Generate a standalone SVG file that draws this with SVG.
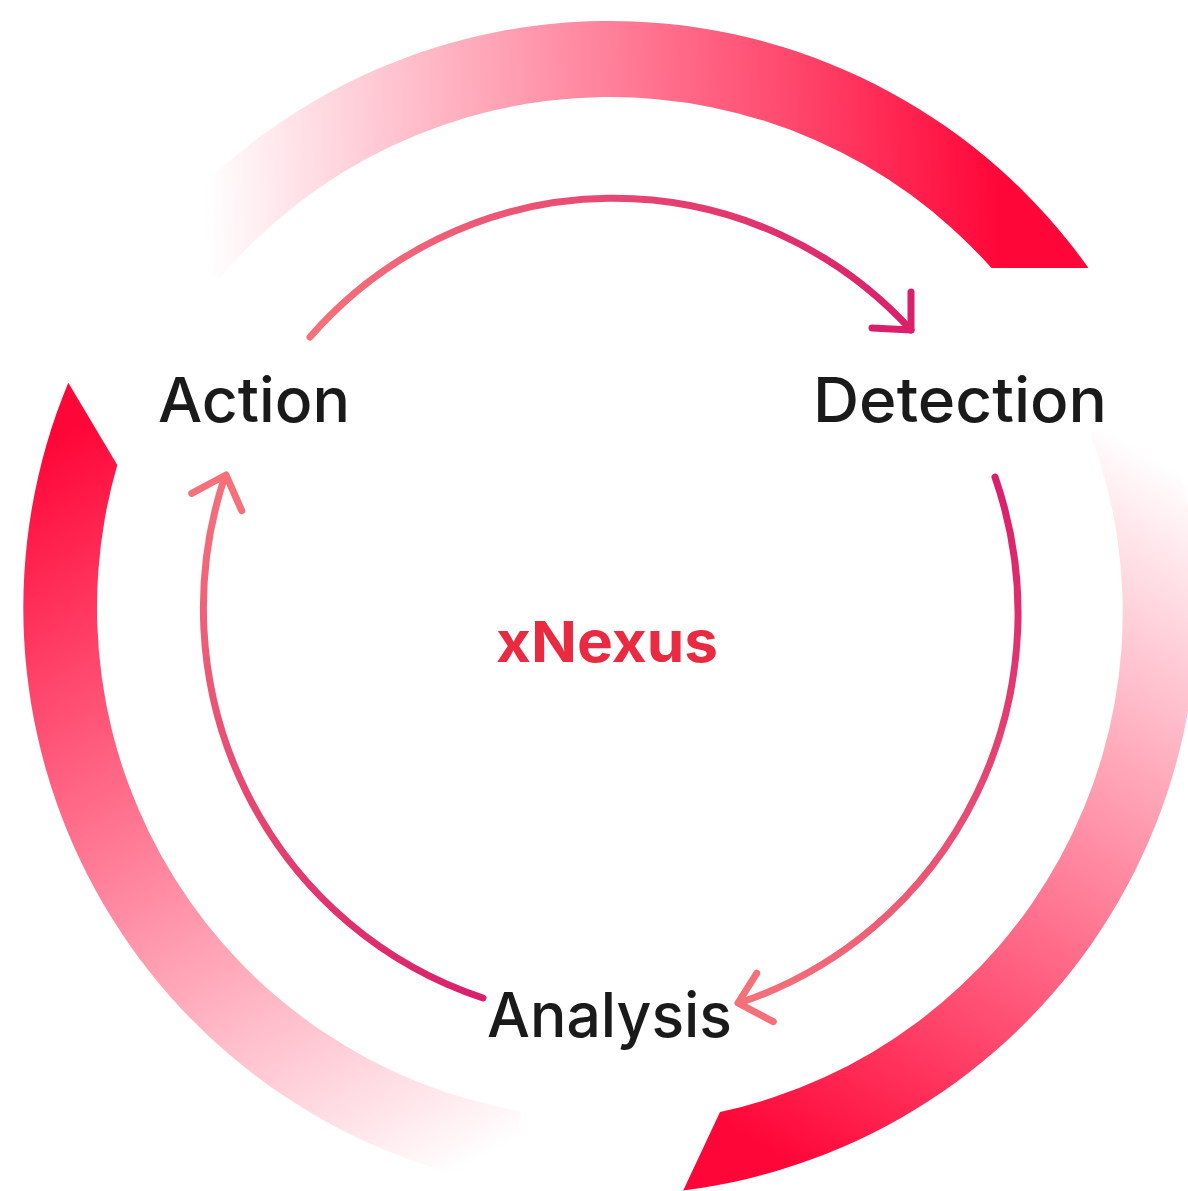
<svg xmlns="http://www.w3.org/2000/svg" width="1188" height="1191" viewBox="0 0 1188 1191">
  <defs>
    <linearGradient id="gTop" gradientUnits="userSpaceOnUse" x1="205" y1="250" x2="1000" y2="230">
      <stop offset="0" stop-color="#ff0a3c" stop-opacity="0"/>
      <stop offset="1" stop-color="#ff0638"/>
    </linearGradient>
    <linearGradient id="gLeft" gradientUnits="userSpaceOnUse" x1="500" y1="1150" x2="90" y2="420">
      <stop offset="0" stop-color="#ff0a3c" stop-opacity="0"/>
      <stop offset="1" stop-color="#ff0638"/>
    </linearGradient>
    <linearGradient id="gRight" gradientUnits="userSpaceOnUse" x1="1130" y1="440" x2="720" y2="1120">
      <stop offset="0" stop-color="#ff0a3c" stop-opacity="0"/>
      <stop offset="1" stop-color="#ff0638"/>
    </linearGradient>
    <linearGradient id="aTop" gradientUnits="userSpaceOnUse" x1="310" y1="337" x2="912" y2="330">
      <stop offset="0" stop-color="#f4717a"/>
      <stop offset="1" stop-color="#da1f6b"/>
    </linearGradient>
    <linearGradient id="aRight" gradientUnits="userSpaceOnUse" x1="1000" y1="480" x2="740" y2="1000">
      <stop offset="0" stop-color="#da1f6b"/>
      <stop offset="1" stop-color="#f4717a"/>
    </linearGradient>
    <linearGradient id="aLeft" gradientUnits="userSpaceOnUse" x1="483" y1="998" x2="226" y2="475">
      <stop offset="0" stop-color="#da1f6b"/>
      <stop offset="1" stop-color="#f4717a"/>
    </linearGradient>
    <style>
      .arc { fill: none; stroke-width: 7; stroke-linecap: round; stroke-linejoin: round; }
      .label { font-family: Inter, "Liberation Sans", sans-serif; font-size: 62px; font-weight: 500; fill: #1a1a1a; text-anchor: middle; }
      .center { font-family: Inter, "Liberation Sans", sans-serif; font-size: 57px; font-weight: 700; fill: #e92a41; text-anchor: middle; }
    </style>
  </defs>
  <rect width="1188" height="1191" fill="#ffffff"/>

  <g id="ring">
    <path id="seg-top" fill="url(#gTop)" d="M 991.5 268 L 1088.5 268 A 587 587 0 0 0 160.3 230.7 L 218.6 279.5 A 511 511 0 0 1 991.5 268 Z"/>
    <path id="seg-left" fill="url(#gLeft)" d="M 117.3 465 L 68.3 382.7 A 587 587 0 0 0 508.1 1186.1 L 521.3 1111.2 A 511 511 0 0 1 117.3 465 Z"/>
    <path id="seg-right" fill="url(#gRight)" d="M 720 1112 L 683.2 1190.5 A 587 587 0 0 0 1161.6 407.2 L 1090.2 433.2 A 511 511 0 0 1 720 1112 Z"/>
  </g>

  <g id="connectors">
    <g id="action-to-detection">
      <path class="arc" stroke="url(#aTop)" d="M 310 337 A 405 410 0 0 1 911 330"/>
      <path class="arc" stroke="#da1f6b" d="M 911 292 L 911 330 L 872 328"/>
    </g>
    <g id="detection-to-analysis">
      <path class="arc" stroke="url(#aRight)" d="M 995 477 A 405 410 0 0 1 739 1003"/>
      <path class="arc" stroke="#f4717a" d="M 756.7 973.3 L 738 1003 L 773.3 1021.7"/>
    </g>
    <g id="analysis-to-action">
      <path class="arc" stroke="url(#aLeft)" d="M 483 998 A 405 410 0 0 1 225 476"/>
      <path class="arc" stroke="#f4717a" d="M 191.7 493.3 L 226 475 L 241.7 510.7"/>
    </g>
  </g>

  <g id="node-action"><text class="label" x="254" y="422" textLength="192" lengthAdjust="spacingAndGlyphs">Action</text></g>
  <g id="node-detection"><text class="label" x="960" y="422" textLength="294" lengthAdjust="spacingAndGlyphs">Detection</text></g>
  <g id="node-analysis"><text class="label" x="609.5" y="1037" textLength="245" lengthAdjust="spacingAndGlyphs">Analysis</text></g>
  <g id="node-xnexus"><text class="center" x="607" y="662" textLength="222" lengthAdjust="spacingAndGlyphs">xNexus</text></g>
</svg>
